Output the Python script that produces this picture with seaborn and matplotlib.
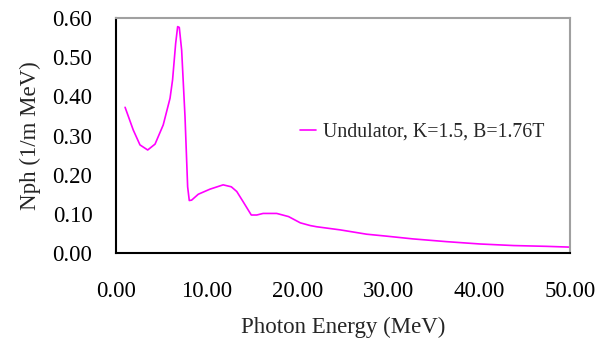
import numpy as np
import pandas as pd
import matplotlib
matplotlib.use('Agg')
import matplotlib.pyplot as plt
import seaborn as sns

# photon spectrum
energy = [1.0, 1.9, 2.64, 3.49, 4.3, 5.2, 5.95, 6.23, 6.57, 6.79, 6.97, 7.23, 7.6,
          7.89, 8.07, 8.33, 9.06, 10.35, 11.8, 12.7, 13.3, 14.0, 14.9, 15.5, 16.2,
          17.7, 19.0, 20.3, 21.4, 22.1, 24.7, 27.6, 29.8, 32.7, 36.4, 40.1, 43.8,
          47.4, 50.0]
nph = [0.372, 0.314, 0.276, 0.263, 0.278, 0.327, 0.395, 0.442, 0.535, 0.578, 0.576,
       0.518, 0.348, 0.169, 0.134, 0.135, 0.150, 0.163, 0.174, 0.169, 0.157, 0.131,
       0.097, 0.097, 0.101, 0.101, 0.093, 0.077, 0.070, 0.067, 0.059, 0.048, 0.043,
       0.036, 0.029, 0.023, 0.019, 0.017, 0.015]
label = 'Undulator, K=1.5, B=1.76T'

df = pd.DataFrame({'E': energy, 'N': nph, 'series': label})

sns.set_style('white')
plt.rcParams['font.family'] = ['Liberation Serif', 'DejaVu Serif']

fig = plt.figure(figsize=(6.07, 3.42), dpi=100)
ax = fig.add_axes([116/607, 1-253/342, 454/607, 235/342])
sns.lineplot(data=df, x='E', y='N', hue='series', palette=['#FF00FF'],
             linewidth=1.2, ax=ax)

ax.set_xlim(0, 50)
ax.set_ylim(0, 0.6)
ax.set_xticks(np.arange(0, 51, 10))
ax.set_yticks(np.arange(0, 0.61, 0.1))
ax.xaxis.set_major_formatter(matplotlib.ticker.FormatStrFormatter('%.2f'))
ax.yaxis.set_major_formatter(matplotlib.ticker.FormatStrFormatter('%.2f'))
ax.tick_params(axis='x', direction='inout', length=11, width=1, pad=15,
               labelsize=16.5, colors='black')
ax.tick_params(axis='y', direction='out', length=5, width=1, pad=12,
               labelsize=16.5, colors='black')
ax.set_xlabel('Photon Energy (MeV)', fontsize=16.5, labelpad=10)
ax.set_ylabel('Nph (1/m MeV)', fontsize=16.5, labelpad=8)

for s in ['left', 'bottom']:
    ax.spines[s].set_color('black')
    ax.spines[s].set_linewidth(1.5)
for s in ['top', 'right']:
    ax.spines[s].set_color('#a0a0a0')
    ax.spines[s].set_linewidth(1.5)

ax.legend(loc='center left', bbox_to_anchor=(0.367, 0.515), frameon=False,
          fontsize=14.3, handlelength=0.8, handletextpad=0.35)

fig.savefig('out.png', dpi=100)
